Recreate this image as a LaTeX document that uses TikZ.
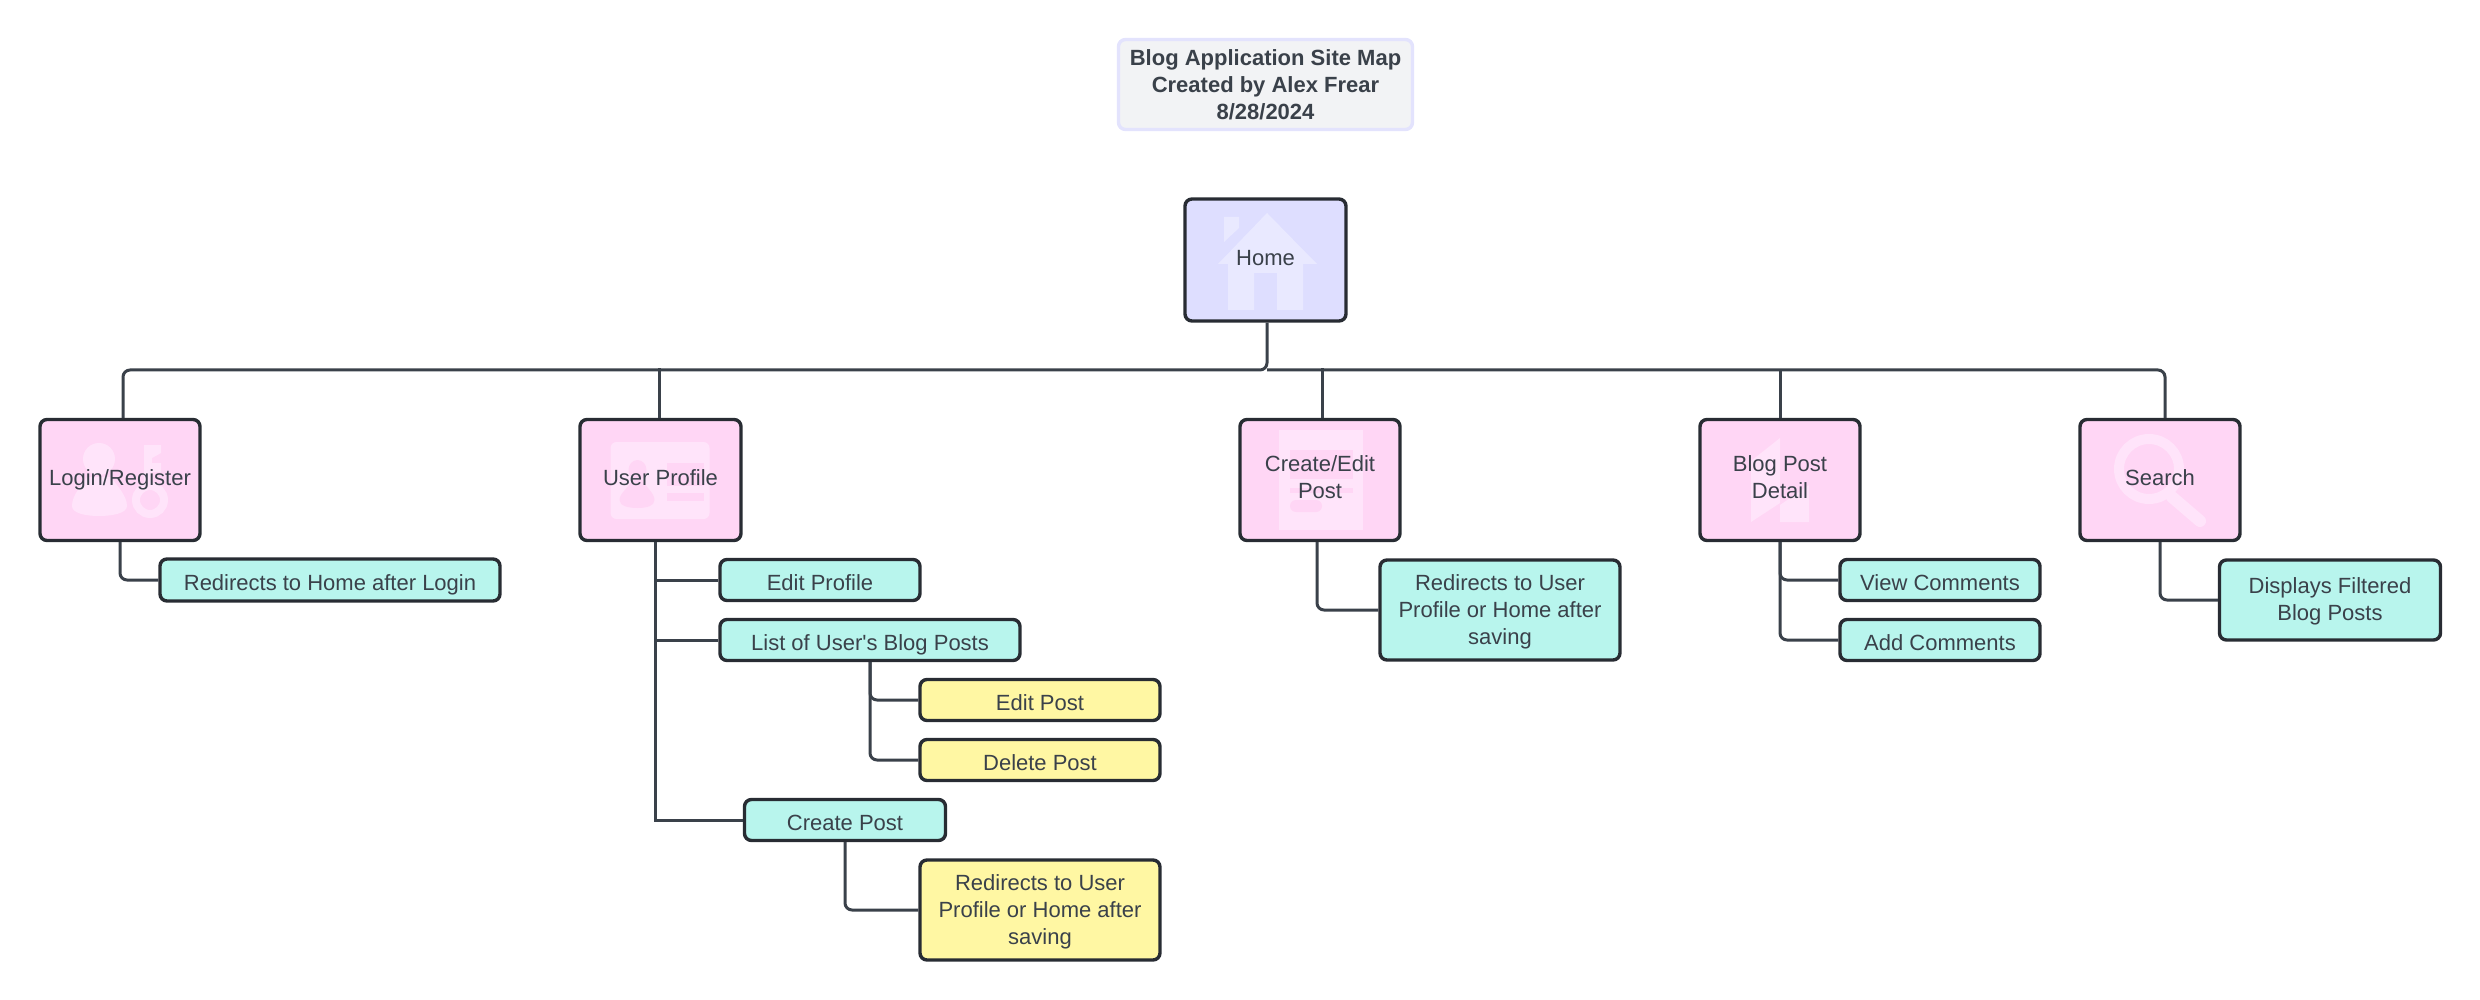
\documentclass[tikz,border=0pt]{standalone}
\usepackage{fontspec}
\setmainfont{Liberation Sans}
\definecolor{inkgray}{HTML}{3A414A}
\definecolor{edgedark}{HTML}{282C33}
\definecolor{homefill}{HTML}{DEDEFF}
\definecolor{homemark}{HTML}{E9E9FF}
\definecolor{pagefill}{HTML}{FFD6F5}
\definecolor{pagemark}{HTML}{FFE4FA}
\definecolor{notefill}{HTML}{B8F5ED}
\definecolor{itemfill}{HTML}{FFF7A3}
\definecolor{titlefill}{HTML}{F2F3F5}
\definecolor{titleedge}{HTML}{E3E3FD}
\tikzset{
  boxtext/.style={inner sep=0pt, text=inkgray, align=center, font=\fontsize{11}{13.5}\selectfont},
  basebox/.style={boxtext, draw=edgedark, rounded corners=3.5pt, line width=1.7pt},
  homebox/.style={basebox, fill=homefill, minimum width=80.5pt, minimum height=61pt},
  pagebox/.style={basebox, fill=pagefill, minimum height=60.5pt},
  notebox/.style={basebox, fill=notefill},
  itembox/.style={basebox, fill=itemfill},
  titlebox/.style={basebox, draw=titleedge, fill=titlefill, minimum width=147pt, minimum height=45pt,
    font=\fontsize{11}{13.5}\selectfont\bfseries},
  bigrow/.style={boxtext, text height=8pt, text depth=2.5pt},
  onerow/.style={text height=10.5pt, text depth=0pt},
  tworows/.style={boxtext, text depth=3pt},
  link/.style={draw=inkgray, line width=1.5pt, rounded corners=3.5pt},
  pics/homemark/.style={code={
    \fill[homemark] (1.5,-47) -- (51.5,4) -- (37.5,4) -- (37.5,50) -- (11.5,50) -- (11.5,13)
      -- (-11.5,13) -- (-11.5,50) -- (-37.5,50) -- (-37.5,4) -- (-47.5,4) -- cycle;
    \fill[homemark] (-41.5,-43) -- (-26.5,-43) -- (-26.5,-32) -- (-41.5,-18) -- cycle;
  }},
  pics/loginmark/.style={code={
    \fill[pagemark] (-21,-21) ellipse (16 and 16);
    \fill[pagemark] (-33,-3) .. controls (-38,5) and (-48,15) .. (-48,26)
      .. controls (-48,33) and (-35,36) .. (-21,36)
      .. controls (-7,36) and (7,33) .. (7,26)
      .. controls (7,15) and (-4,5) .. (-9,-3) -- cycle;
    \fill[pagemark] (24,-35) -- (41,-35) -- (41,-27) -- (32,-22) -- (32,-17) -- (41,-17)
      -- (41,-8) -- (32,-8) -- (32,5) -- (24,5) -- cycle;
    \draw[pagemark, line width=4pt] (30,20) ellipse (14 and 14);
  }},
  pics/profilemark/.style={code={
    \fill[pagemark, rounded corners=3pt] (-50,-38) rectangle (49,39);
    \fill[pagefill] (-23,-10) ellipse (9 and 10);
    \fill[pagefill] (-28,0) .. controls (-31,7) and (-41,13) .. (-41,20)
      .. controls (-41,26) and (-32,28) .. (-23,28)
      .. controls (-14,28) and (-6,26) .. (-6,20)
      .. controls (-6,13) and (-15,7) .. (-18,0) -- cycle;
    \fill[pagefill] (6,-17) rectangle (43,6);
    \fill[pagefill] (6,13) rectangle (43,21);
  }},
  pics/formmark/.style={code={
    \fill[pagemark] (-41,-50) rectangle (43,50);
    \fill[pagefill] (-30,-30) rectangle (33,-1);
    \fill[pagefill] (-30,8) rectangle (33,13);
    \fill[pagefill, rounded corners=3pt] (-30,20) rectangle (2,32);
  }},
  pics/readmark/.style={code={
    \fill[pagemark] (-29,-19) -- (0,-42) -- (0,23) -- (-29,42) -- cycle;
    \fill[pagemark] (0,25) -- (29,5) -- (29,42) -- (0,42) -- cycle;
  }},
  pics/searchmark/.style={code={
    \draw[pagemark, line width=5pt] (-11,-11) ellipse (30 and 30);
    \draw[pagemark, line width=6pt, line cap=round] (12,17) -- (40,41);
  }}
}
\begin{document}
\begin{tikzpicture}[x=0.5pt,y=-0.5pt]
  \useasboundingbox (0,0) rectangle (2480,1000);
  % title and root
  \node[titlebox] (title) at (1265.5,84.5) {Blog Application Site Map\\Created by Alex Frear\\8/28/2024};
  \node[homebox] (home) at (1265.5,260) {};
  \pic at (home) {homemark};
  \node[bigrow] (hometext) at (home) {Home};
  % main pages
  \node[pagebox, minimum width=80pt] (login) at (120,480) {};
  \pic at (login) {loginmark};
  \node[bigrow] (logintext) at (login) {Login/Register};
  \node[pagebox, minimum width=80.5pt] (profile) at (660.5,480) {};
  \pic at (profile) {profilemark};
  \node[bigrow] (profiletext) at (profile) {User Profile};
  \node[pagebox, minimum width=80pt] (editpage) at (1320,480) {};
  \pic at (editpage) {formmark};
  \node[tworows] (editpagetext) at (editpage) {Create/Edit\\Post};
  \node[pagebox, minimum width=80pt] (detail) at (1780,480) {};
  \pic at (detail) {readmark};
  \node[tworows] (detailtext) at (detail) {Blog Post\\Detail};
  \node[pagebox, minimum width=80pt] (search) at (2160,480) {};
  \pic at (search) {searchmark};
  \node[bigrow] (searchtext) at (search) {Search};
  % children
  \node[notebox, onerow, minimum width=170pt, minimum height=21pt] (loginnote) at (330,580) {Redirects to Home after Login};
  \node[notebox, onerow, minimum width=100pt, minimum height=20.5pt] (editprofile) at (820,580) {Edit Profile};
  \node[notebox, onerow, minimum width=150pt, minimum height=20.5pt] (userposts) at (870,640) {List of User\textquotesingle s Blog Posts};
  \node[itembox, onerow, minimum width=120pt, minimum height=20.5pt] (editpost) at (1040,700) {Edit Post};
  \node[itembox, onerow, minimum width=120pt, minimum height=20.5pt] (deletepost) at (1040,760) {Delete Post};
  \node[notebox, onerow, minimum width=100.5pt, minimum height=20.5pt] (createpost) at (845,820) {Create Post};
  \node[itembox, text height=37pt, minimum width=120pt, minimum height=50pt] (createnote) at (1040,910) {Redirects to User\\Profile or Home after\\saving};
  \node[notebox, text height=37pt, minimum width=120pt, minimum height=50pt] (editnote) at (1500,610) {Redirects to User\\Profile or Home after\\saving};
  \node[notebox, onerow, minimum width=100pt, minimum height=20.5pt] (viewcomments) at (1940,580) {View Comments};
  \node[notebox, onerow, minimum width=100pt, minimum height=20.5pt] (addcomments) at (1940,640) {Add Comments};
  \node[notebox, text height=23pt, minimum width=110.5pt, minimum height=40pt] (filterednote) at (2330,600) {Displays Filtered\\Blog Posts};
  % links from home
  \coordinate (bus) at (1267,370);
  \draw[link] ([xshift=0.75pt]home.south) -- (bus) -| ([xshift=1.5pt]login.north);
  \draw[link] (bus) -| ([xshift=2.5pt]search.north);
  \draw[link] ([xshift=-0.75pt]profile.north) -- ++(0,-50);
  \draw[link] ([xshift=1pt]editpage.north) -- ++(0,-50);
  \draw[link] (bus -| detail.north) -- (detail.north);
  % links below the pages
  \draw[link] (login.south) |- (loginnote.west);
  \draw[link, sharp corners] ([xshift=-2.75pt]profile.south) |- (createpost.west);
  \draw[link, sharp corners] ([xshift=-2.75pt]profile.south |- editprofile.west) -- (editprofile.west);
  \draw[link, sharp corners] ([xshift=-2.75pt]profile.south |- userposts.west) -- (userposts.west);
  \draw[link] (userposts.south) |- (editpost.west);
  \draw[link] (userposts.south) |- (deletepost.west);
  \draw[link] (createpost.south) |- (createnote.west);
  \draw[link] ([xshift=-1.5pt]editpage.south) |- (editnote.west);
  \draw[link] (detail.south) |- (viewcomments.west);
  \draw[link] (detail.south) |- (addcomments.west);
  \draw[link] (search.south) |- (filterednote.west);
\end{tikzpicture}
\end{document}
